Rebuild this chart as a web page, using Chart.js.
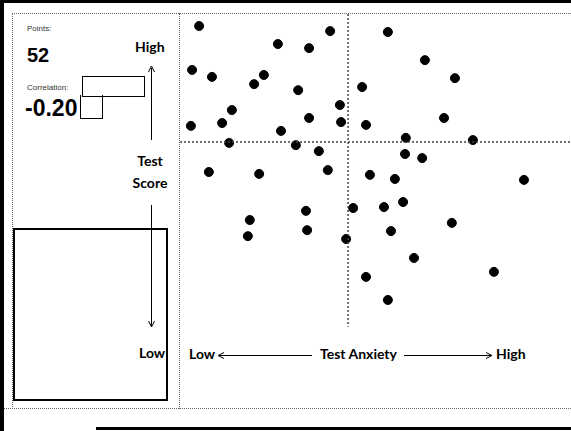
<!DOCTYPE html>
<html>
<head>
<meta charset="utf-8">
<script src="https://cdn.jsdelivr.net/npm/chart.js@4/dist/chart.umd.min.js"></script>
<style>
  body { margin: 0; background: #fff; }
  #page { position: relative; width: 571px; height: 431px; overflow: hidden; background: #fff; }
  #plot { position: absolute; left: 0; top: 0; }
  .abs { position: absolute; }
  .small { font-family: "Liberation Sans", Arial, sans-serif; font-size: 8px; color: #333; }
  .big { font-family: "Liberation Sans", Arial, sans-serif; font-weight: bold; color: #000; }
  .lbl { font-family: Lato, "Open Sans", sans-serif; font-weight: bold; font-size: 14px; color: #000; }
</style>
</head>
<body>
<div id="page">
  <!-- scanned frame -->
  <div class="abs" style="left:0;top:0;width:4px;height:431px;background:#000"></div>
  <div class="abs" style="left:0;top:0;width:571px;height:3px;background:#000"></div>
  <div class="abs" style="left:96px;top:427px;width:475px;height:3px;background:#000"></div>
  <div class="abs" style="left:12px;top:13px;width:559px;border-top:1px dotted #666"></div>
  <div class="abs" style="left:12px;top:13px;height:396px;border-left:1px dotted #666"></div>
  <div class="abs" style="left:179px;top:13px;height:396px;border-left:1px dotted #666"></div>
  <div class="abs" style="left:4px;top:408px;width:567px;border-top:1px dotted #666"></div>

  <!-- left panel -->
  <div class="abs small" style="left:27px;top:24px">Points:</div>
  <div class="abs big" style="left:27px;top:44px;font-size:20px">52</div>
  <div class="abs small" style="left:27px;top:83px">Correlation:</div>
  <div class="abs big" style="left:25px;top:95px;font-size:23px">-0.20</div>
  <div class="abs" style="left:82px;top:76px;width:61px;height:19px;border:1px solid #000"></div>
  <div class="abs" style="left:80px;top:95px;width:21px;height:23px;border:1px solid #000;border-top:none"></div>

  <div class="abs lbl" style="left:135px;top:38px">High</div>
  <div class="abs lbl" style="left:120px;top:150px;width:60px;text-align:center;line-height:22px">Test<br>Score</div>
  <div class="abs lbl" style="left:139px;top:344px">Low</div>
  <div class="abs" style="left:13px;top:228px;width:151px;height:169px;border:2px solid #000"></div>

  <svg class="abs" style="left:0;top:0" width="571" height="431">
    <g stroke="#000" stroke-width="1" fill="none">
      <line x1="151.5" y1="68" x2="151.5" y2="140"/>
      <polyline points="148.5,72 151.5,66 154.5,72"/>
      <line x1="151.5" y1="205" x2="151.5" y2="326"/>
      <polyline points="148.5,321 151.5,327 154.5,321"/>
      <line x1="219" y1="355.5" x2="312" y2="355.5"/>
      <polyline points="224,352.5 218,355.5 224,358.5"/>
      <line x1="404" y1="355.5" x2="491" y2="355.5"/>
      <polyline points="486,352.5 492,355.5 486,358.5"/>
    </g>
  </svg>
  <div class="abs lbl" style="left:189px;top:345px">Low</div>
  <div class="abs lbl" style="left:320px;top:345px">Test Anxiety</div>
  <div class="abs lbl" style="left:496px;top:345px">High</div>

  <canvas id="plot" width="571" height="431"></canvas>
</div>
<script>
// values: test anxiety (0 = low, 100 = high) and test score (0 = low, 100 = high)
const anxiety = [
  4.9, 38.5, 25.1, 33.1, 3.1, 8.2, 21.5, 19.0, 30.3, 46.7,
  13.3, 41.0, 2.8, 10.8, 33.1, 41.3, 47.7, 25.9, 12.6, 29.7,
  35.6, 53.3, 62.8, 70.5, 67.7, 57.9, 75.1, 57.7, 62.1, 7.4,
  20.3, 37.9, 48.7, 44.4, 32.3, 17.9, 32.6, 17.4, 42.6, 47.7,
  55.1, 88.2, 52.3, 57.2, 69.7, 54.1, 60.0, 80.5, 53.3
];
const score = [
  96.2, 94.6, 90.5, 89.2, 82.3, 80.1, 80.7, 77.8, 75.9, 76.9,
  69.6, 71.2, 64.6, 65.5, 67.1, 65.8, 64.9, 63.0, 59.2, 58.5,
  56.6, 94.3, 85.4, 79.7, 67.1, 60.8, 60.1, 55.7, 54.4, 50.0,
  49.4, 50.6, 49.1, 38.6, 37.7, 34.8, 31.6, 29.7, 28.8, 16.8,
  47.8, 47.5, 38.9, 40.5, 33.9, 31.3, 22.8, 18.4, 9.5
];

// dotted guide lines (mean anxiety / mean score)
const meanAnxiety = 43.1;
const meanScore = 59.5;

const points = anxiety.map((a, i) => ({ x: a, y: score[i] }));

new Chart(document.getElementById("plot"), {
  type: 'scatter',
  data: {
    datasets: [
      {
        data: [{ x: meanAnxiety, y: 100 }, { x: meanAnxiety, y: 1 }],
        type: 'line',
        showLine: true,
        borderColor: '#444',
        borderWidth: 1.5,
        borderDash: [2, 2],
        pointRadius: 0
      },
      {
        data: [{ x: 0, y: meanScore }, { x: 100, y: meanScore }],
        type: 'line',
        showLine: true,
        borderColor: '#444',
        borderWidth: 1.5,
        borderDash: [2, 2],
        pointRadius: 0
      },
      {
        data: points,
        backgroundColor: '#000',
        borderColor: '#000',
        pointRadius: 4.5,
        clip: false
      }
    ]
  },
  options: {
    responsive: false,
    animation: false,
    layout: { autoPadding: false, padding: { left: 180, top: 14, right: 1, bottom: 101 } },
    plugins: { legend: { display: false }, tooltip: { enabled: false } },
    scales: {
      x: { type: 'linear', min: 0, max: 100, display: false },
      y: { type: 'linear', min: 0, max: 100, display: false }
    }
  }
});
</script>
</body>
</html>
